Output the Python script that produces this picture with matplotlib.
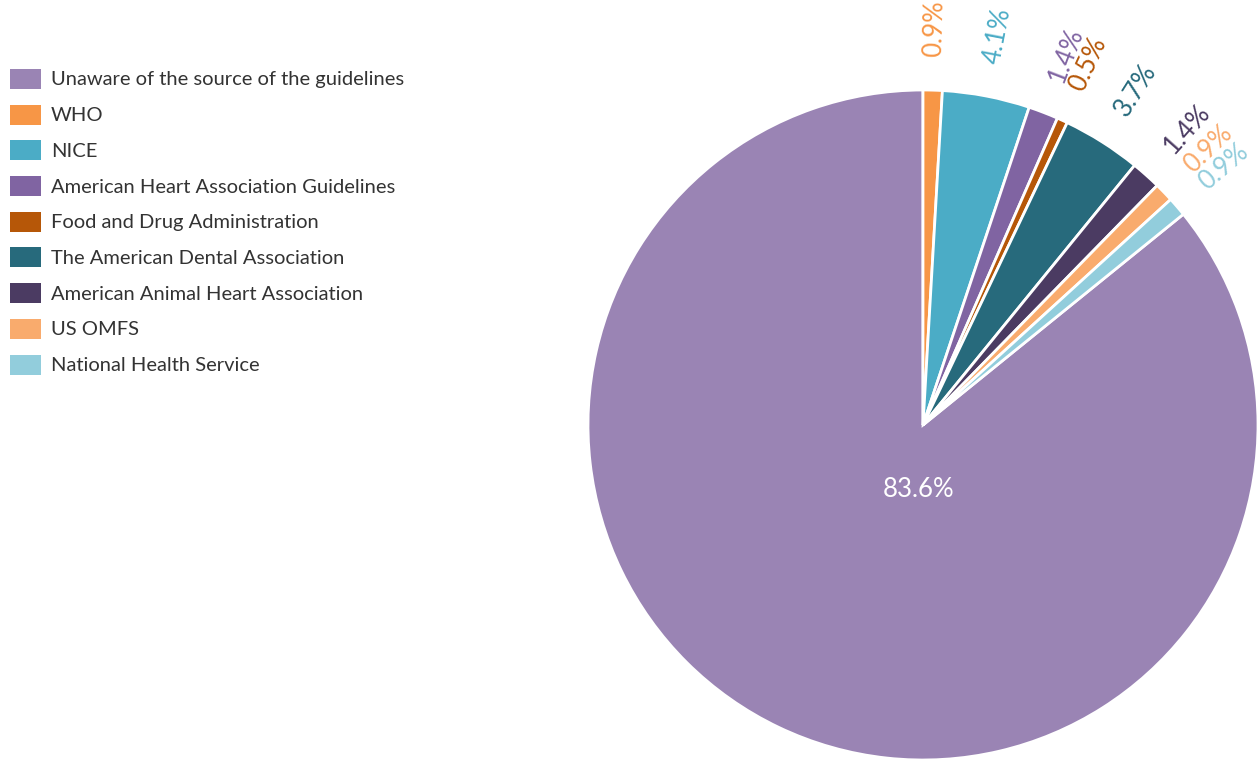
import matplotlib
matplotlib.use('Agg')
import numpy as np
import matplotlib.pyplot as plt
from matplotlib.patches import Rectangle

plt.rcParams['font.family'] = ['Lato', 'DejaVu Sans']

# данные (проценты как на подписях)
sources = ['Unaware of the source of the guidelines', 'WHO', 'NICE',
           'American Heart Association Guidelines', 'Food and Drug Administration',
           'The American Dental Association', 'American Animal Heart Association',
           'US OMFS', 'National Health Service']
percent = [83.6, 0.9, 4.1, 1.4, 0.5, 3.7, 1.4, 0.9, 0.9]
colors = ['#9a84b4', '#f79646', '#4bacc6', '#8064a2', '#b65708',
          '#276a7c', '#4b3b62', '#f9ab6d', '#92cddc']

fig = plt.figure(figsize=(12.58, 7.61), dpi=100)
W, H = 1258, 761

# ось под пирог: центр (923, 425), радиус 335 px
r_px = 335
cx, cy = 923, 425
ax = fig.add_axes([(cx - r_px) / W, 1 - (cy + r_px) / H, 2 * r_px / W, 2 * r_px / H])

total = sum(percent)
small = total - percent[0]
start = 90 - 360 * small / total   # "Unaware" заканчивается ровно на 12 часах

wedges, _ = ax.pie(percent, colors=colors, startangle=start, counterclock=False,
                   radius=1.0, wedgeprops=dict(edgecolor='white', linewidth=2))
ax.set_xlim(-1, 1)
ax.set_ylim(-1, 1)
ax.set_aspect('equal')
ax.axis('off')

for i, w in enumerate(wedges):
    lbl = f'{percent[i]:.1f}%'
    if i == 0:
        ax.text(-0.012, -0.194, lbl, color='white', fontsize=18.5,
                ha='center', va='center')
        continue
    ang = (w.theta1 + w.theta2) / 2
    a = np.deg2rad(ang)
    ax.text(1.1 * np.cos(a), 1.1 * np.sin(a), lbl, color=colors[i], fontsize=18.5,
            rotation=ang, rotation_mode='anchor', ha='left', va='center',
            clip_on=False)

# легенда слева
y0 = 79
step = 35.7
for i, name in enumerate(sources):
    y = y0 + i * step
    fig.patches.append(Rectangle((10 / W, 1 - (y + 10) / H), 31 / W, 20 / H,
                                 transform=fig.transFigure, facecolor=colors[i],
                                 edgecolor='none'))
    fig.text(51 / W, 1 - (y + 1) / H, name, fontsize=14.5, color='#333333',
             ha='left', va='center')

fig.savefig('out.png', dpi=100)
